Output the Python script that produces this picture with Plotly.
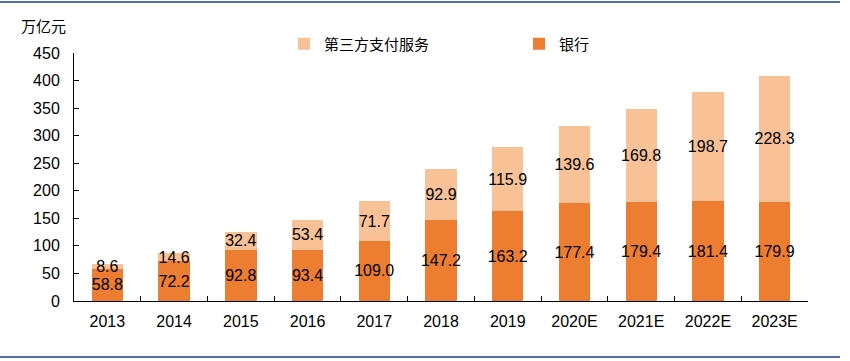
import plotly.graph_objects as go

years = ["2013", "2014", "2015", "2016", "2017", "2018", "2019", "2020E", "2021E", "2022E", "2023E"]
bank = [58.8, 72.2, 92.8, 93.4, 109.0, 147.2, 163.2, 177.4, 179.4, 181.4, 179.9]
third_party = [8.6, 14.6, 32.4, 53.4, 71.7, 92.9, 115.9, 139.6, 169.8, 198.7, 228.3]
y_ticks = [0, 50, 100, 150, 200, 250, 300, 350, 400, 450]

FONT = "Liberation Sans, Arial, sans-serif"
CJK = "Noto Sans CJK SC"

fig = go.Figure()
fig.add_trace(go.Bar(
    x=years, y=bank, name="银行",
    marker=dict(color="#ED7D31", line=dict(width=0)),
    text=[f"{v:.1f}" for v in bank], textposition="inside",
    insidetextanchor="middle", textangle=0,
    textfont=dict(family=FONT, size=16, color="black"),
))
fig.add_trace(go.Bar(
    x=years, y=third_party, name="第三方支付服务",
    marker=dict(color="#F8C196", line=dict(width=0)),
    text=[f"{v:.1f}" for v in third_party], textposition="inside",
    insidetextanchor="middle", textangle=0,
    textfont=dict(family=FONT, size=16, color="black"),
))

L, R, T, B = 74, 42, 53, 60
W, H = 850, 361
pw, ph = W - L - R, H - T - B

def px_x(p):
    return (p - L) / pw

def px_y(p):
    return (H - B - p) / ph

fig.update_layout(
    width=W, height=H,
    margin=dict(l=L, r=R, t=T, b=B, autoexpand=False),
    barmode="stack", bargap=0.53,
    plot_bgcolor="white", paper_bgcolor="white",
    uniformtext=dict(minsize=16, mode="show"),
    font=dict(family=FONT, size=16, color="black"),
    showlegend=True,
    legend=dict(
        orientation="h", x=px_x(284), y=px_y(44), xanchor="left", yanchor="middle",
        traceorder="reversed", entrywidth=190, entrywidthmode="pixels",
        font=dict(family=CJK, size=15, color="black"),
        itemsizing="constant", bgcolor="rgba(0,0,0,0)",
    ),
    xaxis=dict(
        type="category", showline=True, linecolor="black", linewidth=1,
        ticks="inside", ticklen=5, tickcolor="black", tickson="boundaries",
        showgrid=False, tickfont=dict(family=FONT, size=16),
        ticklabelstandoff=6,
    ),
    yaxis=dict(
        range=[0, 450], tickvals=y_ticks, showline=True, linecolor="black", linewidth=1,
        ticks="inside", ticklen=5, tickcolor="black", showgrid=False, zeroline=False,
        tickfont=dict(family=FONT, size=16), ticklabelstandoff=10,
    ),
    annotations=[dict(
        text="万亿元", xref="paper", yref="paper", x=px_x(19), y=px_y(26),
        xanchor="left", yanchor="middle", showarrow=False,
        font=dict(family=CJK, size=15, color="black"),
    )],
    shapes=[
        dict(type="line", xref="paper", yref="paper", x0=px_x(0), x1=px_x(840),
             y0=px_y(2), y1=px_y(2), line=dict(color="#1F3C88", width=1.5)),
        dict(type="line", xref="paper", yref="paper", x0=px_x(0), x1=px_x(840),
             y0=px_y(357), y1=px_y(357), line=dict(color="#1F3C88", width=1.5)),
    ],
)

fig.write_html(
    "out.html",
    config={"displayModeBar": False},
    post_script="document.body.style.margin='0';document.body.style.overflow='hidden';",
)
